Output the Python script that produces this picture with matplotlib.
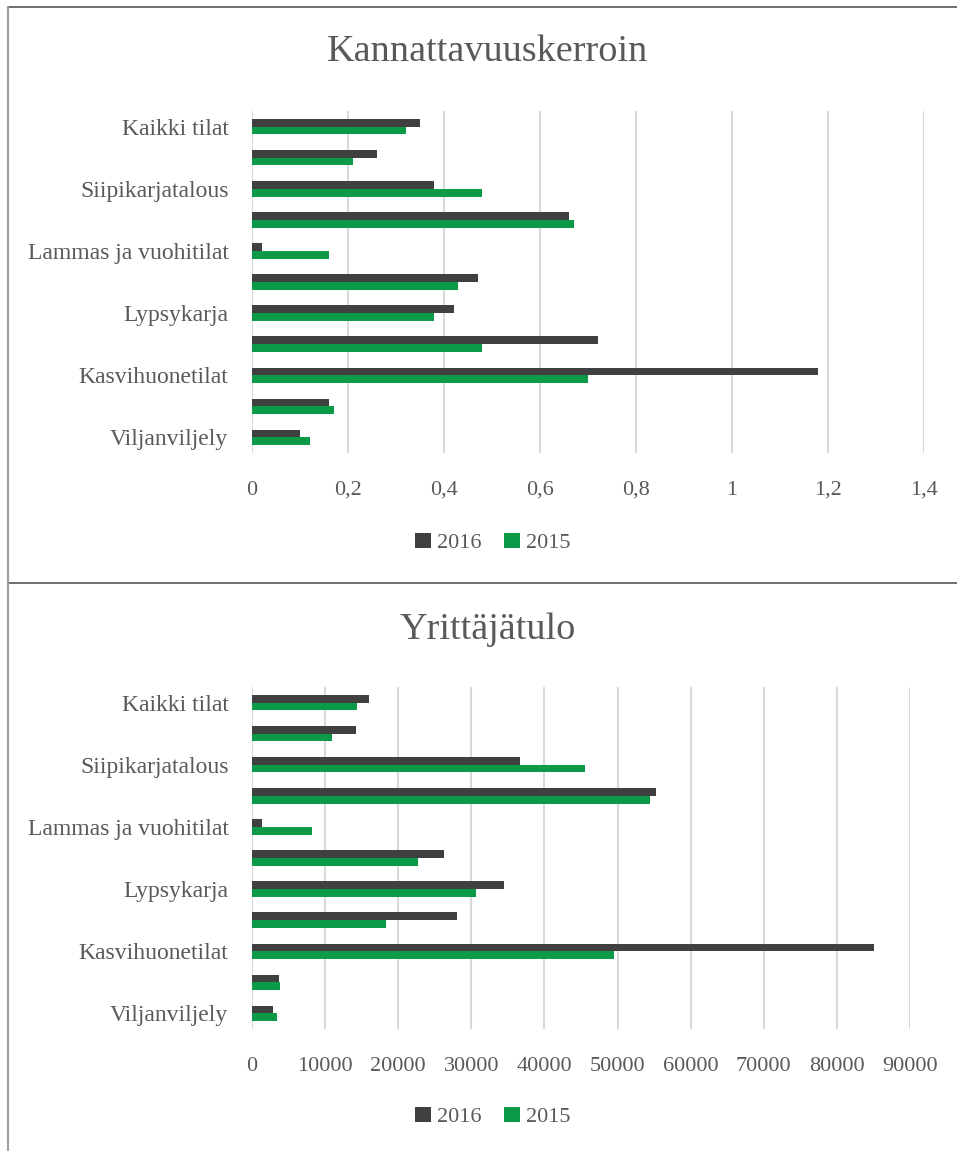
import matplotlib
matplotlib.use("Agg")
import matplotlib.pyplot as plt
from matplotlib.patches import Patch
from matplotlib.lines import Line2D
import numpy as np

# ---- data (bottom category first) ----
categories = ["Viljanviljely", "", "Kasvihuonetilat", "", "Lypsykarja", "",
              "Lammas ja vuohitilat", "", "Siipikarjatalous", "", "Kaikki tilat"]
kannattavuus_2016 = [0.10, 0.16, 1.18, 0.72, 0.42, 0.47, 0.02, 0.66, 0.38, 0.26, 0.35]
kannattavuus_2015 = [0.12, 0.17, 0.70, 0.48, 0.38, 0.43, 0.16, 0.67, 0.48, 0.21, 0.32]
yrittajatulo_2016 = [2900, 3650, 85100, 28000, 34500, 26200, 1300, 55300, 36700, 14200, 16000]
yrittajatulo_2015 = [3400, 3800, 49500, 18300, 30700, 22700, 8250, 54400, 45500, 11000, 14400]
series_names = ["2016", "2015"]
top_ticks = [0, 0.2, 0.4, 0.6, 0.8, 1.0, 1.2, 1.4]
top_ticklabels = ["0", "0,2", "0,4", "0,6", "0,8", "1", "1,2", "1,4"]
bottom_ticks = [0, 10000, 20000, 30000, 40000, 50000, 60000, 70000, 80000, 90000]
bottom_ticklabels = [str(v) for v in bottom_ticks]

DARK = "#404040"
GREEN = "#0B9B48"
TEXT = "#595959"
GRID = "#D9D9D9"
FONT = "Liberation Serif"

W, H = 957, 1151
fig = plt.figure(figsize=(W / 100, H / 100), dpi=100)
plt.rcParams["font.family"] = FONT


def fx(px):
    return px / W


def fy(py):
    return 1 - py / H


def draw_panel(left, right, top, bottom, v16, v15, ticks, ticklabels, xmax, title, title_y, legend_y):
    ax = fig.add_axes([fx(left), fy(bottom), fx(right - left), (bottom - top) / H])
    y = np.arange(len(categories))
    h = 0.25
    ax.barh(y + h / 2, v16, height=h, color=DARK, label=series_names[0], zorder=3)
    ax.barh(y - h / 2, v15, height=h, color=GREEN, label=series_names[1], zorder=3)
    ax.set_xlim(0, xmax)
    ax.set_ylim(-0.5, len(categories) - 0.5)
    ax.set_xticks(ticks)
    ax.set_xticklabels(ticklabels)
    shown = [i for i, c in enumerate(categories) if c]
    ax.set_yticks(shown)
    ax.set_yticklabels([categories[i] for i in shown])
    ax.tick_params(axis="both", length=0, colors=TEXT)
    ax.tick_params(axis="y", pad=17, labelsize=17)
    ax.tick_params(axis="x", pad=20, labelsize=16)
    ax.xaxis.grid(True, color=GRID, linewidth=1.5, zorder=0)
    for s in ax.spines.values():
        s.set_visible(False)
    fig.text(fx(488), fy(title_y), title, ha="center", va="center",
             fontsize=27.5, color=TEXT, family=FONT)
    handles = [Patch(facecolor=DARK, edgecolor="none"), Patch(facecolor=GREEN, edgecolor="none")]
    fig.legend(handles, series_names, loc="center", bbox_to_anchor=(fx(493), fy(legend_y)),
               ncol=2, frameon=False, fontsize=16, labelcolor=TEXT,
               handlelength=0.7, handleheight=0.7, handletextpad=0.3, columnspacing=1.0)
    return ax


draw_panel(252, 924, 111, 453, kannattavuus_2016, kannattavuus_2015,
           top_ticks, top_ticklabels, 1.4, "Kannattavuuskerroin", 52, 543)
draw_panel(252, 910, 687, 1029, yrittajatulo_2016, yrittajatulo_2015,
           bottom_ticks, bottom_ticklabels, 90000, "Yrittäjätulo", 630, 1117)

# panel borders
fig.add_artist(Line2D([fx(8), 1], [fy(7), fy(7)], color="#555555", linewidth=1.2))
fig.add_artist(Line2D([fx(8), 1], [fy(583), fy(583)], color="#555555", linewidth=1.2))
fig.add_artist(Line2D([fx(8), fx(8)], [fy(7), 0], color="#A0A0A0", linewidth=1.5))

fig.savefig("out.png", dpi=100)
